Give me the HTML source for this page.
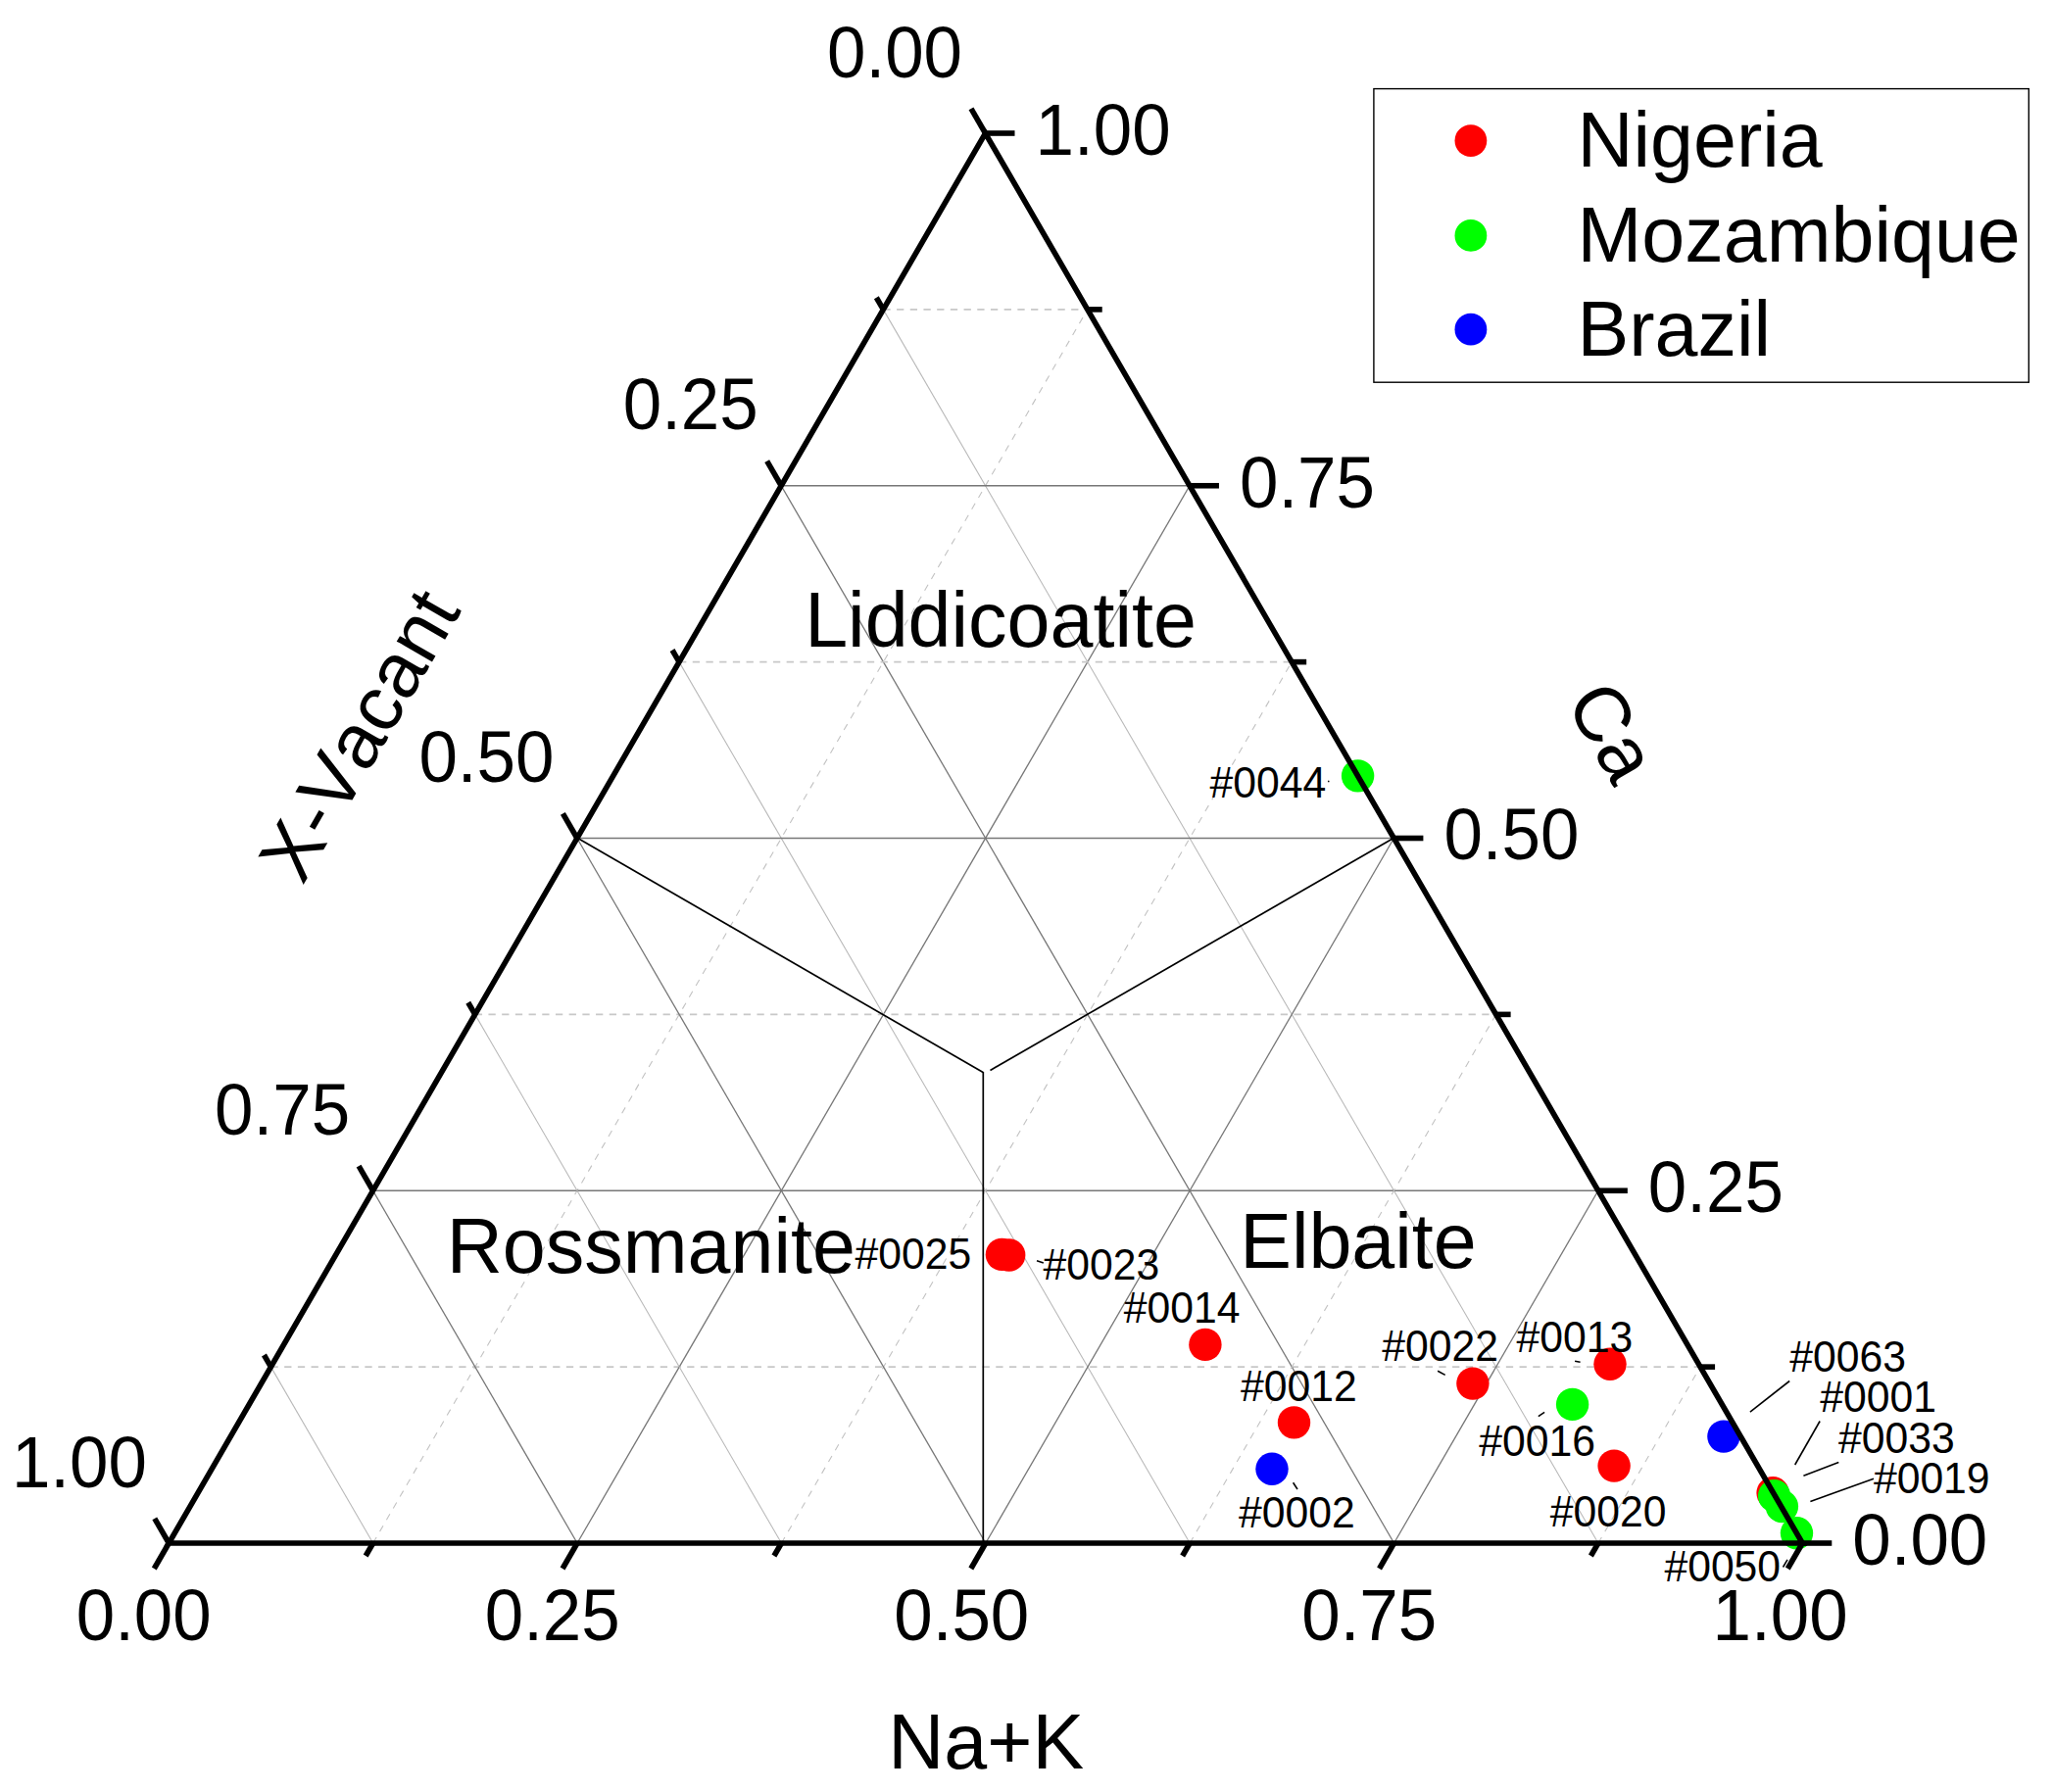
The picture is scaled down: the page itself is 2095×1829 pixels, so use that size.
<!DOCTYPE html>
<html lang="en"><head><meta charset="utf-8"><title>Ternary diagram</title>
<style>html,body{margin:0;padding:0;background:#fff;overflow:hidden;width:2095px;height:1829px}svg{display:block}</style></head>
<body>
<svg width="2095" height="1829" viewBox="0 0 2095 1829">
<rect width="2095" height="1829" fill="#fff"/>
<g fill="none"><line x1="276.45" y1="1395.12" x2="1735.08" y2="1395.12" stroke="#c8c8c8" stroke-width="1.7" stroke-dasharray="7.3 6.4"/><line x1="380.68" y1="1575" x2="1109.72" y2="315.88" stroke="#c2c2c2" stroke-width="1.1" stroke-dasharray="6.9 6.8"/><line x1="901.35" y1="315.88" x2="1630.92" y2="1575" stroke="#b8b8b8" stroke-width="1.05"/><line x1="380.6" y1="1215.25" x2="1630.85" y2="1215.25" stroke="#777" stroke-width="1.3"/><line x1="589.05" y1="1575" x2="1213.95" y2="495.75" stroke="#777" stroke-width="1.3"/><line x1="797.2" y1="495.75" x2="1422.55" y2="1575" stroke="#777" stroke-width="1.3"/><line x1="484.75" y1="1035.38" x2="1526.62" y2="1035.38" stroke="#c8c8c8" stroke-width="1.7" stroke-dasharray="7.3 6.4"/><line x1="797.42" y1="1575" x2="1318.17" y2="675.62" stroke="#c2c2c2" stroke-width="1.1" stroke-dasharray="6.9 6.8"/><line x1="693.05" y1="675.62" x2="1214.17" y2="1575" stroke="#b8b8b8" stroke-width="1.05"/><line x1="588.9" y1="855.5" x2="1422.4" y2="855.5" stroke="#777" stroke-width="1.3"/><line x1="1005.8" y1="1575" x2="1422.4" y2="855.5" stroke="#777" stroke-width="1.3"/><line x1="588.9" y1="855.5" x2="1005.8" y2="1575" stroke="#777" stroke-width="1.3"/><line x1="693.05" y1="675.62" x2="1318.17" y2="675.62" stroke="#c8c8c8" stroke-width="1.7" stroke-dasharray="7.3 6.4"/><line x1="1214.17" y1="1575" x2="1526.62" y2="1035.38" stroke="#c2c2c2" stroke-width="1.1" stroke-dasharray="6.9 6.8"/><line x1="484.75" y1="1035.38" x2="797.42" y2="1575" stroke="#b8b8b8" stroke-width="1.05"/><line x1="797.2" y1="495.75" x2="1213.95" y2="495.75" stroke="#777" stroke-width="1.3"/><line x1="1422.55" y1="1575" x2="1630.85" y2="1215.25" stroke="#777" stroke-width="1.3"/><line x1="380.6" y1="1215.25" x2="589.05" y2="1575" stroke="#777" stroke-width="1.3"/><line x1="901.35" y1="315.88" x2="1109.72" y2="315.88" stroke="#c8c8c8" stroke-width="1.7" stroke-dasharray="7.3 6.4"/><line x1="1630.92" y1="1575" x2="1735.08" y2="1395.12" stroke="#c2c2c2" stroke-width="1.1" stroke-dasharray="6.9 6.8"/><line x1="276.45" y1="1395.12" x2="380.68" y2="1575" stroke="#b8b8b8" stroke-width="1.05"/></g>
<g fill="none" stroke="#000" stroke-width="1.7">
<line x1="589.2" y1="855.3" x2="1003.2" y2="1094.6" />
<line x1="1422.8" y1="855" x2="1010.5" y2="1092.4" />
<line x1="1003.3" y1="1094" x2="1003.3" y2="1575" />
</g>
<g><circle cx="1022.4" cy="1280.4" r="16.7" fill="#ff0000"/><circle cx="1029.7" cy="1281" r="16.7" fill="#ff0000"/><circle cx="1229.9" cy="1372.4" r="16.7" fill="#ff0000"/><circle cx="1320.5" cy="1451.9" r="16.7" fill="#ff0000"/><circle cx="1502.9" cy="1412.1" r="16.7" fill="#ff0000"/><circle cx="1643" cy="1392.3" r="16.7" fill="#ff0000"/><circle cx="1647.1" cy="1496.1" r="16.7" fill="#ff0000"/><circle cx="1809.1" cy="1523.8" r="16.7" fill="#ff0000"/><circle cx="1385.6" cy="791.9" r="16.7" fill="#00ff00"/><circle cx="1604.6" cy="1433.4" r="16.7" fill="#00ff00"/><circle cx="1810.6" cy="1526.8" r="16.7" fill="#00ff00"/><circle cx="1818.4" cy="1537.5" r="16.7" fill="#00ff00"/><circle cx="1833.5" cy="1564.8" r="16.7" fill="#00ff00"/><circle cx="1298" cy="1499.3" r="16.7" fill="#0000ff"/><circle cx="1758.9" cy="1466.1" r="16.7" fill="#0000ff"/></g>
<g stroke="#000" stroke-width="5.6" stroke-linecap="butt" fill="none" stroke-linecap="square"><polygon points="172.3,1575 1839.3,1575 1005.5,136" stroke-linejoin="miter"/><line x1="172.3" y1="1575" x2="157.3" y2="1600.98" /><line x1="1839.3" y1="1575" x2="1869.3" y2="1575" /><line x1="1005.5" y1="136" x2="991" y2="110.89" /><line x1="380.68" y1="1575" x2="373.18" y2="1587.99" /><line x1="1735.08" y1="1395.12" x2="1750.08" y2="1395.12" /><line x1="901.35" y1="315.88" x2="894.35" y2="303.75" /><line x1="589.05" y1="1575" x2="574.05" y2="1600.98" /><line x1="1630.85" y1="1215.25" x2="1660.85" y2="1215.25" /><line x1="797.2" y1="495.75" x2="782.7" y2="470.64" /><line x1="797.42" y1="1575" x2="789.92" y2="1587.99" /><line x1="1526.62" y1="1035.38" x2="1541.62" y2="1035.38" /><line x1="693.05" y1="675.62" x2="686.05" y2="663.5" /><line x1="1005.8" y1="1575" x2="990.8" y2="1600.98" /><line x1="1422.4" y1="855.5" x2="1452.4" y2="855.5" /><line x1="588.9" y1="855.5" x2="574.4" y2="830.39" /><line x1="1214.17" y1="1575" x2="1206.67" y2="1587.99" /><line x1="1318.17" y1="675.62" x2="1333.17" y2="675.62" /><line x1="484.75" y1="1035.38" x2="477.75" y2="1023.25" /><line x1="1422.55" y1="1575" x2="1407.55" y2="1600.98" /><line x1="1213.95" y1="495.75" x2="1243.95" y2="495.75" /><line x1="380.6" y1="1215.25" x2="366.1" y2="1190.14" /><line x1="1630.92" y1="1575" x2="1623.42" y2="1587.99" /><line x1="1109.72" y1="315.88" x2="1124.72" y2="315.88" /><line x1="276.45" y1="1395.12" x2="269.45" y2="1383" /><line x1="1839.3" y1="1575" x2="1824.3" y2="1600.98" /><line x1="1005.5" y1="136" x2="1035.5" y2="136" /><line x1="172.3" y1="1575" x2="157.8" y2="1549.89" /></g>
<g font-family="Liberation Sans, Arial, Helvetica, sans-serif" fill="#000" style="font-kerning:none"><text transform="translate(77.7,1674) scale(1,1.04)" font-size="70.9" >0.00</text><text transform="translate(494.7,1674) scale(1,1.04)" font-size="70.9" >0.25</text><text transform="translate(912.3,1674) scale(1,1.04)" font-size="70.9" >0.50</text><text transform="translate(1328.2,1674) scale(1,1.04)" font-size="70.9" >0.75</text><text transform="translate(1747.6,1674) scale(1,1.04)" font-size="70.9" >1.00</text><text transform="translate(1890.3,1596.8) scale(1,1.04)" font-size="70.9" >0.00</text><text transform="translate(1681.85,1237.05) scale(1,1.04)" font-size="70.9" >0.25</text><text transform="translate(1473.4,877.3) scale(1,1.04)" font-size="70.9" >0.50</text><text transform="translate(1264.95,517.55) scale(1,1.04)" font-size="70.9" >0.75</text><text transform="translate(1056.6,157.8) scale(1,1.04)" font-size="70.9" >1.00</text><text transform="translate(844,78.7) scale(1,1.04)" font-size="70.9" >0.00</text><text transform="translate(635.7,438.45) scale(1,1.04)" font-size="70.9" >0.25</text><text transform="translate(427.4,798.2) scale(1,1.04)" font-size="70.9" >0.50</text><text transform="translate(219.1,1157.95) scale(1,1.04)" font-size="70.9" >0.75</text><text transform="translate(11.9,1517.7) scale(1,1.04)" font-size="70.9" >1.00</text><text x="821.2" y="659.8" font-size="79.0" >Liddicoatite</text><text x="455.8" y="1298.6" font-size="79.0" >Rossmanite</text><text x="1265.2" y="1294" font-size="79.0" >Elbaite</text><text x="906.3" y="1804.6" font-size="79.0" >Na+K</text><text font-size="79.0" transform="translate(308.7,904.5) rotate(-60)" x="0" y="0">X-Vacant</text><text font-size="79.0" text-anchor="middle" transform="translate(1622,760.5) rotate(60)" x="0" y="0">Ca</text><text x="1609.5" y="169.8" font-size="79.0" >Nigeria</text><text x="1609.5" y="266.7" font-size="79.0" >Mozambique</text><text x="1609.5" y="362.8" font-size="79.0" >Brazil</text><text transform="translate(1234.5,813.6) scale(1,1.045)" font-size="42.7" >#0044</text><text transform="translate(872.5,1295.4) scale(1,1.045)" font-size="42.7" >#0025</text><text transform="translate(1064.5,1305.6) scale(1,1.045)" font-size="42.7" >#0023</text><text transform="translate(1146.8,1350.4) scale(1,1.045)" font-size="42.7" >#0014</text><text transform="translate(1266.1,1429.5) scale(1,1.045)" font-size="42.7" >#0012</text><text transform="translate(1264.1,1559.2) scale(1,1.045)" font-size="42.7" >#0002</text><text transform="translate(1410.3,1389.3) scale(1,1.045)" font-size="42.7" >#0022</text><text transform="translate(1547.6,1379.7) scale(1,1.045)" font-size="42.7" >#0013</text><text transform="translate(1509.3,1486.4) scale(1,1.045)" font-size="42.7" >#0016</text><text transform="translate(1581.7,1557.8) scale(1,1.045)" font-size="42.7" >#0020</text><text transform="translate(1826.2,1399.9) scale(1,1.045)" font-size="42.7" >#0063</text><text transform="translate(1857.2,1441.3) scale(1,1.045)" font-size="42.7" >#0001</text><text transform="translate(1876,1483.1) scale(1,1.045)" font-size="42.7" >#0033</text><text transform="translate(1911.9,1523.7) scale(1,1.045)" font-size="42.7" >#0019</text><text transform="translate(1698.4,1614.2) scale(1,1.045)" font-size="42.7" >#0050</text></g>
<g stroke="#000" stroke-width="1.6" fill="none"><line x1="1826.2" y1="1409.5" x2="1785.9" y2="1441.1" /><line x1="1857.1" y1="1450.5" x2="1831.7" y2="1495" /><line x1="1876.3" y1="1492.6" x2="1840.4" y2="1506.2" /><line x1="1912" y1="1509.3" x2="1847.4" y2="1532.4" /><line x1="1824" y1="1591.9" x2="1819.5" y2="1599.5" /><line x1="1467.1" y1="1399.3" x2="1474.7" y2="1403.4" /><line x1="1607.1" y1="1389.2" x2="1612.6" y2="1390.2" /><line x1="1569.8" y1="1445.6" x2="1576.1" y2="1441.4" /><line x1="1058" y1="1286.8" x2="1064.8" y2="1289.1" /><line x1="1319.6" y1="1513.3" x2="1324" y2="1520" /><line x1="1355.1" y1="797.3" x2="1356.4" y2="797.8" /></g>
<rect x="1401.9" y="90.6" width="668.4" height="299.6" fill="none" stroke="#000" stroke-width="1.4"/>
<circle cx="1500.9" cy="143.6" r="16.4" fill="#ff0000"/><circle cx="1500.9" cy="240.4" r="16.4" fill="#00ff00"/><circle cx="1500.9" cy="336.2" r="16.4" fill="#0000ff"/>
</svg>
</body></html>
